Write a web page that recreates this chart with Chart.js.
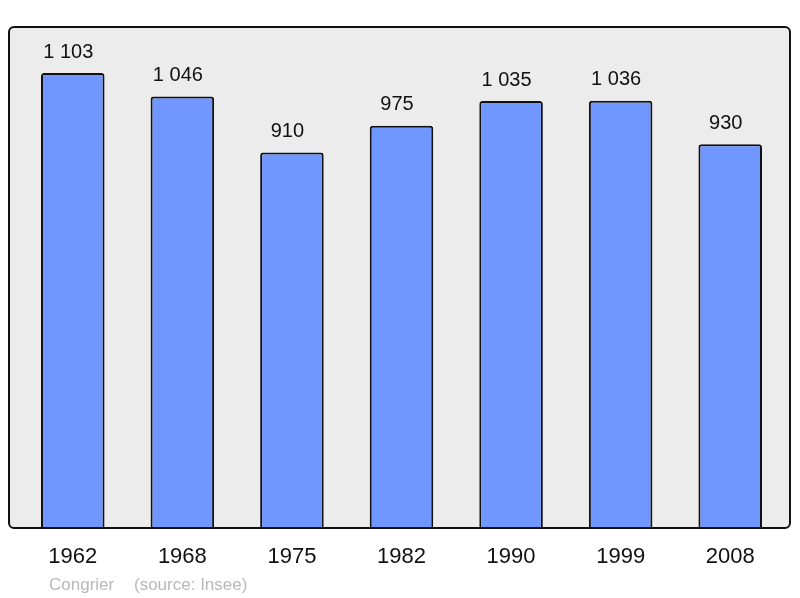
<!DOCTYPE html>
<html><head><meta charset="utf-8">
<script src="https://cdn.jsdelivr.net/npm/chart.js@4"></script>
<style>html,body{margin:0;padding:0;background:#fff;}canvas{display:block;}</style>
</head><body>
<canvas id="c" width="800" height="598"></canvas>
<script>
const years = ["1962","1968","1975","1982","1990","1999","2008"];
const population = [1103, 1046, 910, 975, 1035, 1036, 930];
const valueLabels = ["1 103","1 046","910","975","1 035","1 036","930"];
const footerLeft = "Congrier";
const footerRight = "(source: Insee)";

const frame = {
  id: 'frame',
  beforeDraw(chart) {
    const ctx = chart.ctx;
    ctx.save();
    ctx.fillStyle = '#fff';
    ctx.fillRect(0, 0, chart.width, chart.height);
    ctx.beginPath();
    ctx.roundRect(9, 27, 781, 501, 5);
    ctx.fillStyle = '#ececec';
    ctx.fill();
    ctx.restore();
  },
  afterDatasetsDraw(chart) {
    const ctx = chart.ctx;
    ctx.save();
    ctx.beginPath();
    ctx.roundRect(9, 27, 781, 501, 5);
    ctx.lineWidth = 2;
    ctx.strokeStyle = '#111';
    ctx.stroke();
    const meta = chart.getDatasetMeta(0);
    ctx.fillStyle = '#111';
    ctx.textAlign = 'center';
    ctx.textBaseline = 'middle';
    ctx.font = '20px "Liberation Sans", Arial, sans-serif';
    meta.data.forEach((bar, i) => {
      ctx.fillText(valueLabels[i], bar.x - 4.5, bar.y - 21);
    });
    ctx.font = '22px "Liberation Sans", Arial, sans-serif';
    meta.data.forEach((bar, i) => {
      ctx.fillText(years[i], bar.x, 557);
    });
    ctx.fillStyle = '#b8b8b8';
    ctx.textAlign = 'left';
    ctx.font = '17px "Liberation Sans", Arial, sans-serif';
    ctx.fillText(footerLeft, 49, 585);
    ctx.fillText(footerRight, 134, 585);
    ctx.restore();
  }
};

new Chart(document.getElementById('c'), {
  type: 'bar',
  data: {
    labels: years,
    datasets: [{
      data: population,
      backgroundColor: '#7096ff',
      borderColor: '#111',
      borderWidth: 2,
      borderRadius: 3,
      borderSkipped: 'bottom',
      barPercentage: 0.58,
      categoryPercentage: 1
    }]
  },
  options: {
    responsive: false,
    animation: false,
    layout: { padding: { left: 18, right: 15, top: 27, bottom: 70 } },
    plugins: { legend: { display: false }, tooltip: { enabled: false } },
    scales: {
      x: { display: false },
      y: { display: false, min: 0, max: 1214.5 }
    }
  },
  plugins: [frame]
});
</script>
</body></html>
